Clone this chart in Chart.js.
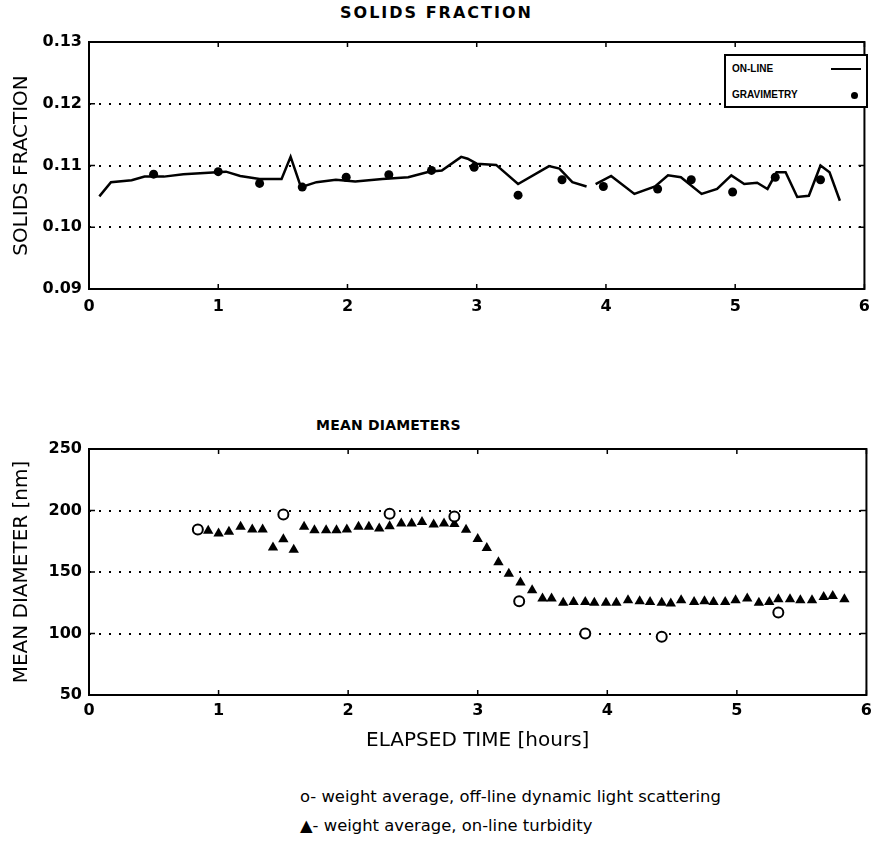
<!DOCTYPE html>
<html>
<head>
<meta charset="utf-8">
<title>Solids fraction and mean diameters</title>
<script src="https://cdn.jsdelivr.net/npm/chart.js@4/dist/chart.umd.min.js"></script>
<style>
    body {
        margin: 0;
        width: 878px;
        height: 865px;
        position: relative;
        overflow: hidden;
        background: #fff;
        color: #000;
        font-family: "DejaVu Sans", sans-serif;
    }
    .chart-wrap { position: absolute; left: 0; width: 878px; }
    #fraction-wrap { top: 0; height: 325px; }
    #diameter-wrap { top: 400px; height: 360px; }
    .panel-title {
        position: absolute;
        font-weight: bold;
        white-space: nowrap;
    }
    #fraction-title { left: 340px; top: 3px; font-size: 16px; letter-spacing: 2px; }
    #diameter-title { left: 316px; top: 417px; font-size: 14px; letter-spacing: 0.2px; }
    .legend-box {
        position: absolute;
        left: 724px;
        top: 54px;
        width: 140px;
        height: 50px;
        border: 2px solid #000;
        background: #fff;
        font-family: "Liberation Sans", Arial, sans-serif;
        font-size: 10px;
        font-weight: bold;
    }
    .legend-row { position: absolute; left: 6px; white-space: nowrap; }
    .legend-line { position: absolute; left: 105px; top: 12px; width: 30px; height: 2px; background: #000; }
    .legend-dot { position: absolute; left: 125px; top: 36px; width: 7px; height: 7px; border-radius: 50%; background: #000; }
    .note {
        position: absolute;
        left: 300px;
        font-size: 16.4px;
        white-space: nowrap;
    }
</style>
</head>
<body>
<div id="fraction-title" class="panel-title">SOLIDS FRACTION</div>
<div id="fraction-wrap" class="chart-wrap"><canvas id="fraction-chart" width="878" height="325"></canvas></div>
<div class="legend-box">
    <div class="legend-row" style="top:7px">ON-LINE</div>
    <div class="legend-line"></div>
    <div class="legend-row" style="top:33px">GRAVIMETRY</div>
    <div class="legend-dot"></div>
</div>
<div id="diameter-title" class="panel-title">MEAN DIAMETERS</div>
<div id="diameter-wrap" class="chart-wrap"><canvas id="diameter-chart" width="878" height="360"></canvas></div>
<div class="note" style="top:787px">o- weight average, off-line dynamic light scattering</div>
<div class="note" style="top:816px">▲- weight average, on-line turbidity</div>

<script>
// --- data ---
const hourTicks = [0, 1, 2, 3, 4, 5, 6];
const fractionTicks = [0.09, 0.10, 0.11, 0.12, 0.13];
const diameterTicks = [50, 100, 150, 200, 250];

// on-line solids fraction (null = gap in the trace)
const onlineHours = [0.08, 0.17, 0.33, 0.43, 0.58, 0.73, 0.99, 1.06, 1.17, 1.32, 1.49, 1.56, 1.64, 1.76, 1.91,
    2.06, 2.27, 2.47, 2.63, 2.73, 2.88, 2.93, 3.00, 3.15, 3.32, 3.56, 3.64, 3.74, 3.85, 3.89,
    3.92, 4.04, 4.22, 4.38, 4.48, 4.58, 4.74, 4.86, 4.97, 5.07, 5.17, 5.25, 5.32, 5.39, 5.48,
    5.57, 5.66, 5.73, 5.81];
const onlineFraction = [0.1050, 0.1073, 0.1076, 0.1082, 0.1082, 0.1086, 0.1089, 0.1090, 0.1083, 0.1078, 0.1078, 0.1114, 0.1065, 0.1073, 0.1077,
    0.1074, 0.1078, 0.1081, 0.1090, 0.1092, 0.1114, 0.1111, 0.1103, 0.1101, 0.1070, 0.1099, 0.1095, 0.1073, 0.1066, null,
    0.1070, 0.1083, 0.1054, 0.1066, 0.1084, 0.1081, 0.1054, 0.1062, 0.1084, 0.1070, 0.1072, 0.1062, 0.1089, 0.1089, 0.1049,
    0.1051, 0.1100, 0.1089, 0.1043];

const gravHours = [0.50, 1.00, 1.32, 1.65, 1.99, 2.32, 2.65, 2.98, 3.32, 3.66, 3.98, 4.40, 4.66, 4.98, 5.31, 5.66];
const gravFraction = [0.1086, 0.1090, 0.1071, 0.1065, 0.1081, 0.1085, 0.1092, 0.1097, 0.1052, 0.1077, 0.1066, 0.1062, 0.1077, 0.1057, 0.1081, 0.1077];

// off-line dynamic light scattering (open circles)
const dlsHours = [0.84, 1.50, 2.32, 2.82, 3.32, 3.83, 4.42, 5.32];
const dlsDiameter = [184.6, 196.8, 197.3, 195.2, 126.2, 100, 97.3, 117];

// on-line turbidity (triangles)
const turbHours = [0.92, 1.00, 1.08, 1.17, 1.26, 1.34, 1.42, 1.50, 1.58, 1.66, 1.74, 1.83, 1.91, 1.99,
    2.08, 2.16, 2.24, 2.32, 2.41, 2.49, 2.57, 2.66, 2.74, 2.82, 2.91, 3.00, 3.07, 3.16, 3.24,
    3.33, 3.42, 3.50, 3.57, 3.66, 3.74, 3.83, 3.90, 3.99, 4.07, 4.16, 4.25, 4.33, 4.42, 4.49,
    4.57, 4.67, 4.75, 4.82, 4.91, 4.99, 5.08, 5.17, 5.25, 5.32, 5.41, 5.49, 5.58, 5.67, 5.74, 5.83];
const turbDiameter = [183.5, 181.4, 182.7, 186.7, 184.6, 184.6, 170, 176.6, 168, 186.7, 184, 184, 184, 184.6,
    186.7, 186.7, 185.4, 187.2, 189.4, 189.4, 190.7, 188.6, 189.4, 189, 184.4, 176.9, 169.6, 158, 148.6,
    141.4, 135.1, 128.4, 128.4, 124.9, 125.7, 125.7, 125.1, 124.9, 124.9, 127, 126.2, 125.7, 124.9, 124.3,
    127, 125.7, 126.2, 125.7, 125.7, 127, 128.4, 124.9, 125.7, 127.8, 127.8, 127, 127, 129.7, 130.5, 127.8];

const toPoints = (xs, ys) => xs.map((x, i) => ({ x: x, y: ys[i] }));

// --- shared styling ---
const tickFont = { family: "'DejaVu Sans', sans-serif", size: 16, weight: 'bold' };
const titleFont = { family: "'DejaVu Sans', sans-serif", size: 20, weight: 'normal' };

// box round the plot plus the short inner tick marks
const framePlugin = {
    id: 'frame',
    afterDraw(chart) {
        const { ctx, chartArea: a, scales } = chart;
        ctx.save();
        ctx.strokeStyle = '#000';
        ctx.lineWidth = 2;
        ctx.strokeRect(a.left, a.top, a.right - a.left, a.bottom - a.top);
        ctx.lineWidth = 1.5;
        ctx.beginPath();
        scales.x.ticks.forEach(t => {
            const px = scales.x.getPixelForValue(t.value);
            ctx.moveTo(px, a.bottom);
            ctx.lineTo(px, a.bottom - 5);
            ctx.moveTo(px, a.top);
            ctx.lineTo(px, a.top + 5);
        });
        scales.y.ticks.forEach(t => {
            const py = scales.y.getPixelForValue(t.value);
            ctx.moveTo(a.left, py);
            ctx.lineTo(a.left + 6, py);
            ctx.moveTo(a.right, py);
            ctx.lineTo(a.right - 6, py);
        });
        ctx.stroke();
        ctx.restore();
    }
};

function hourAxis(labelPadding, title) {
    return {
        type: 'linear',
        min: 0,
        max: 6,
        afterBuildTicks: (scale) => { scale.ticks = hourTicks.map(v => ({ value: v })); },
        afterFit: (scale) => { scale.height = title ? 60 : 30; },
        grid: { display: false, drawTicks: false },
        border: { display: false },
        ticks: { color: '#000', font: tickFont, padding: labelPadding, maxRotation: 0 },
        title: title ? { display: true, text: title, color: '#000', font: titleFont, padding: { top: 0, bottom: 2 } } : { display: false }
    };
}

function valueAxis(tickValues, fmt, title) {
    const lo = tickValues[0];
    const hi = tickValues[tickValues.length - 1];
    return {
        type: 'linear',
        min: lo,
        max: hi,
        afterBuildTicks: (scale) => { scale.ticks = tickValues.map(v => ({ value: v })); },
        afterFit: (scale) => { scale.width = 89; },
        grid: {
            drawTicks: false,
            lineWidth: 2,
            color: (c) => (c.tick && (Math.abs(c.tick.value - lo) < 1e-9 || Math.abs(c.tick.value - hi) < 1e-9)) ? 'rgba(0,0,0,0)' : '#000'
        },
        border: { display: false, dash: [2, 8] },
        ticks: { color: '#000', font: tickFont, padding: 7, callback: fmt },
        title: { display: true, text: title, color: '#000', font: titleFont, padding: { top: 10, bottom: 0 } }
    };
}

const commonOptions = {
    responsive: false,
    animation: false,
    plugins: { legend: { display: false }, title: { display: false }, tooltip: { enabled: false } }
};

// --- top panel: solids fraction ---
new Chart(document.getElementById('fraction-chart'), {
    type: 'scatter',
    data: {
        datasets: [{
            label: 'ON-LINE',
            data: toPoints(onlineHours, onlineFraction),
            showLine: true,
            spanGaps: false,
            borderColor: '#000',
            borderWidth: 2.5,
            pointRadius: 0,
            tension: 0
        }, {
            label: 'GRAVIMETRY',
            data: toPoints(gravHours, gravFraction),
            pointStyle: 'circle',
            pointRadius: 4.5,
            backgroundColor: '#000',
            borderColor: '#000',
            borderWidth: 0
        }]
    },
    options: {
        ...commonOptions,
        layout: { padding: { top: 42, right: 6, bottom: 6, left: 0 } },
        scales: {
            x: hourAxis(8, null),
            y: valueAxis(fractionTicks, (v) => Number(v).toFixed(2), 'SOLIDS FRACTION')
        }
    },
    plugins: [framePlugin]
});

// --- bottom panel: mean diameters ---
new Chart(document.getElementById('diameter-chart'), {
    type: 'scatter',
    data: {
        datasets: [{
            label: 'off-line dynamic light scattering',
            data: toPoints(dlsHours, dlsDiameter),
            pointStyle: 'circle',
            pointRadius: 5,
            backgroundColor: '#fff',
            borderColor: '#000',
            borderWidth: 2
        }, {
            label: 'on-line turbidity',
            data: toPoints(turbHours, turbDiameter),
            pointStyle: 'triangle',
            pointRadius: 6,
            backgroundColor: '#000',
            borderColor: '#000',
            borderWidth: 0
        }]
    },
    options: {
        ...commonOptions,
        layout: { padding: { top: 49, right: 6, bottom: 5, left: 0 } },
        scales: {
            x: hourAxis(6, 'ELAPSED TIME [hours]'),
            y: valueAxis(diameterTicks, (v) => String(v), 'MEAN DIAMETER [nm]')
        }
    },
    plugins: [framePlugin]
});
</script>
</body>
</html>
